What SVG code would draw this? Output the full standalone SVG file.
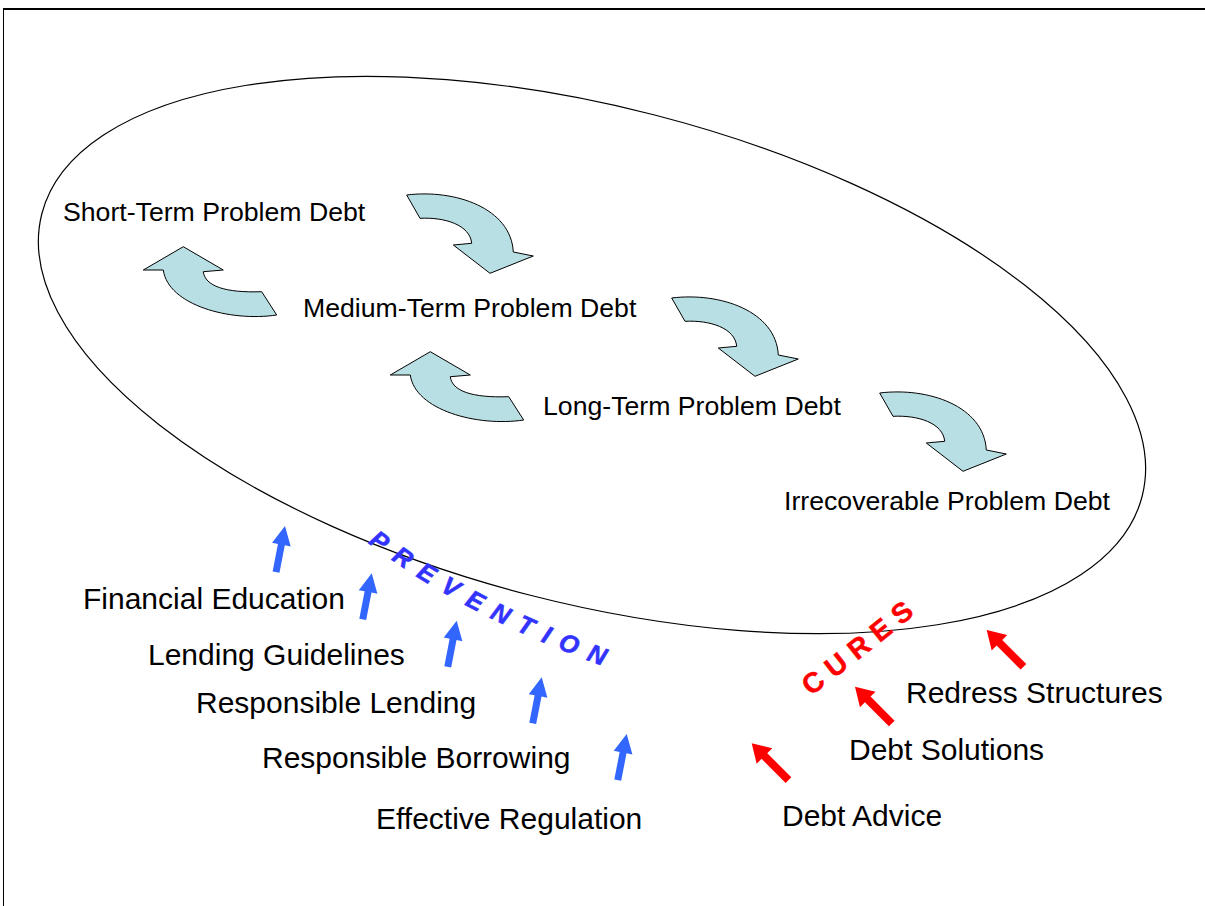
<svg xmlns="http://www.w3.org/2000/svg" xmlns:xlink="http://www.w3.org/1999/xlink" width="1205" height="906" viewBox="0 0 1205 906">
<style>
.lbl{font-family:"Liberation Sans",Arial,sans-serif;font-size:26.67px;fill:#000}
.lbl2{font-family:"Liberation Sans",Arial,sans-serif;font-size:30px;fill:#000}
.curve{fill:#B8DFE3;stroke:#000;stroke-width:1;stroke-linejoin:miter}
.blue{fill:#3366FF}
.red{fill:#FF0000}
.prev{font-family:"Liberation Sans",Arial,sans-serif;font-size:25px;font-weight:bold;font-style:italic;fill:#3333FF;stroke:#3333FF;stroke-width:0.6;letter-spacing:11.5px}
.cures{font-family:"Liberation Sans",Arial,sans-serif;font-size:28px;font-weight:bold;fill:#FF0000;stroke:#FF0000;stroke-width:0.5;letter-spacing:8.7px}
</style>
<defs>
<path id="cw" class="curve" d="M406.7,195 C455,189 511,208 513.3,252 L533.3,256 L490,273.3 L453.3,245 L471.7,243.3 C470,225 445,217 420,218.3 Z"/>
<path id="ccw" class="curve" d="M183.3,246.7 L223.3,270 L203.3,271.7 C205,286 225,293 261.7,291.7 L276.7,315 C230,322 168,305 163.3,270 L143.3,270 Z"/>
<polygon id="ba" points="0,0 9.5,19 3.5,19 3.5,47 -3.5,47 -3.5,19 -9.5,19"/>
<polygon id="ra" points="0,0 11,18 4,18 4,52 -4,52 -4,18 -11,18"/>
<path id="prevPath" d="M368,543 Q470,620 620,672"/>
<path id="curesPath" d="M811,696 Q865,656 935,598"/>
</defs>
<rect width="1205" height="906" fill="#fff"/>
<g id="frame">
<line x1="3.5" y1="8" x2="3.5" y2="906" stroke="#000" stroke-width="1"/>
<line x1="3" y1="9" x2="1205" y2="9" stroke="#000" stroke-width="2"/>
</g>
<g id="debt-ellipse">
<ellipse cx="592" cy="355" rx="568" ry="248" transform="rotate(14.4 592 355)" fill="none" stroke="#000" stroke-width="1.2"/>
</g>
<g id="connectors">
<use xlink:href="#cw"/>
<use xlink:href="#cw" transform="translate(265,103)"/>
<use xlink:href="#cw" transform="translate(473,198)"/>
<use xlink:href="#ccw"/>
<use xlink:href="#ccw" transform="translate(247,105)"/>
<g class="blue">
<use xlink:href="#ba" transform="translate(285,526) rotate(11)"/>
<use xlink:href="#ba" transform="translate(371.7,573.3) rotate(11)"/>
<use xlink:href="#ba" transform="translate(456.7,620.7) rotate(11)"/>
<use xlink:href="#ba" transform="translate(541.7,677.3) rotate(11)"/>
<use xlink:href="#ba" transform="translate(626.7,734) rotate(11)"/>
</g>
<g class="red">
<use xlink:href="#ra" transform="translate(751.7,743.3) rotate(-45)"/>
<use xlink:href="#ra" transform="translate(855,686.7) rotate(-45)"/>
<use xlink:href="#ra" transform="translate(986.7,630) rotate(-45)"/>
</g>
</g>
<g id="short-term"><text class="lbl" x="63" y="221">Short-Term Problem Debt</text></g>
<g id="medium-term"><text class="lbl" x="303" y="316.5">Medium-Term Problem Debt</text></g>
<g id="long-term"><text class="lbl" x="543" y="414.5">Long-Term Problem Debt</text></g>
<g id="irrecoverable"><text class="lbl" x="784" y="509.5">Irrecoverable Problem Debt</text></g>
<g id="financial-education"><text class="lbl2" x="83" y="609">Financial Education</text></g>
<g id="lending-guidelines"><text class="lbl2" x="148" y="664.5">Lending Guidelines</text></g>
<g id="responsible-lending"><text class="lbl2" x="196" y="713">Responsible Lending</text></g>
<g id="responsible-borrowing"><text class="lbl2" x="262" y="768">Responsible Borrowing</text></g>
<g id="effective-regulation"><text class="lbl2" x="376" y="828.5">Effective Regulation</text></g>
<g id="debt-advice"><text class="lbl2" x="782" y="825.5">Debt Advice</text></g>
<g id="debt-solutions"><text class="lbl2" x="849" y="759.5">Debt Solutions</text></g>
<g id="redress-structures"><text class="lbl2" x="906" y="702.5">Redress Structures</text></g>
<g id="prevention"><text class="prev"><textPath xlink:href="#prevPath">PREVENTION</textPath></text></g>
<g id="cures"><text class="cures"><textPath xlink:href="#curesPath">CURES</textPath></text></g>
</svg>
